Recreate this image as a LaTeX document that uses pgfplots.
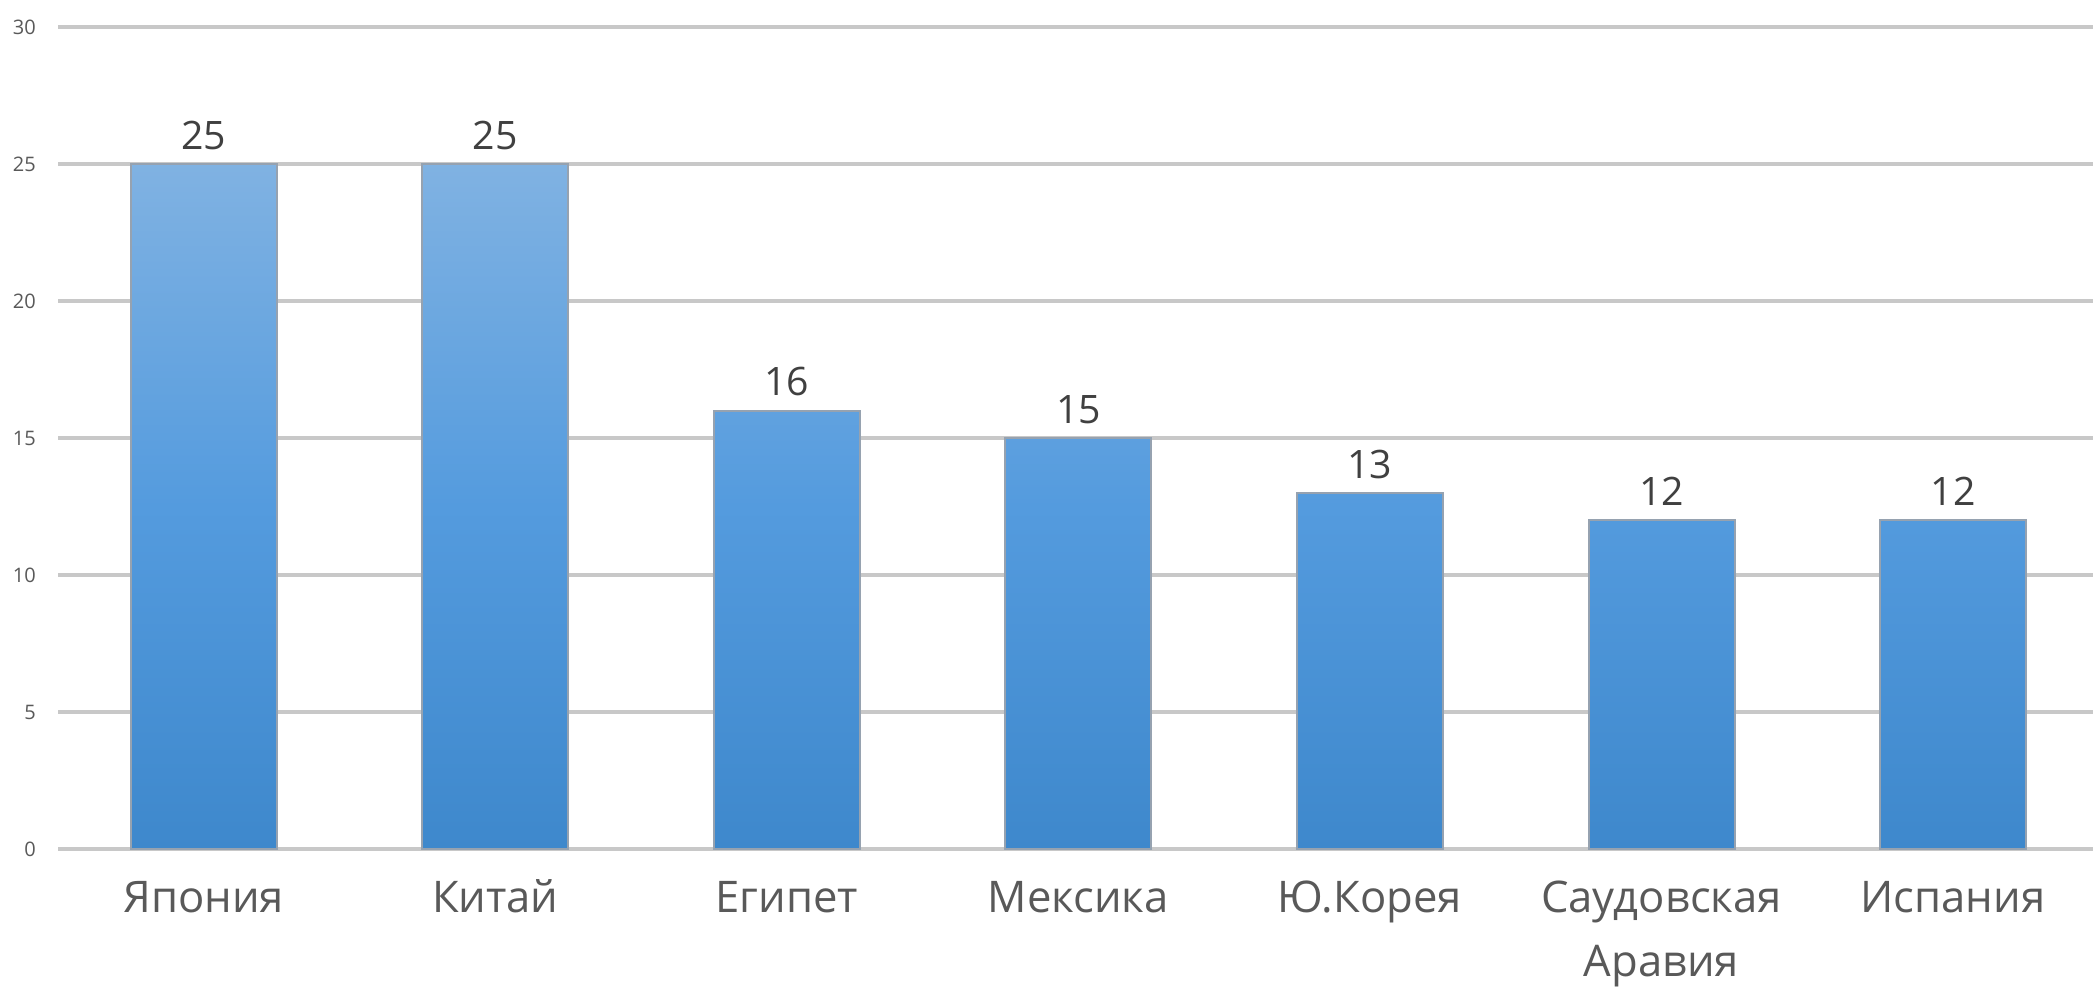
\documentclass[border=0pt]{standalone}
\usepackage{pgfplots}
\pgfplotsset{compat=1.18}
\usepackage{fontspec}
\setmainfont{Open Sans}
\definecolor{gridc}{RGB}{200,200,200}
\definecolor{barTop}{RGB}{128,178,226}
\definecolor{barMid}{RGB}{84,155,222}
\definecolor{barBot}{RGB}{62,136,204}
\definecolor{barEdge}{RGB}{150,162,176}
\definecolor{txt}{RGB}{89,89,89}
\definecolor{lbl}{RGB}{64,64,64}
\newcommand{\st}{\rule{0pt}{11.2pt}}
\begin{document}
\begin{tikzpicture}
\begin{axis}[
  at={(0,0)}, anchor=south west,
  scale only axis,
  width=508.75pt, height=205.5pt,
  xmin=-0.5, xmax=6.48,
  ymin=0, ymax=30,
  ytick={0,5,10,15,20,25,30},
  xtick={0,1,2,3,4,5,6},
  xticklabels={\st Япония,\st Китай,\st Египет,\st Мексика,\st Ю.Корея,\st Саудовская\\Аравия,\st Испания},
  xticklabel style={align=center, font=\fontsize{10.9}{16}\selectfont, text=txt, yshift=-1.2pt},
  yticklabel style={font=\fontsize{5}{6}\selectfont, text=txt, xshift=-2pt},
  /pgf/number format/assume math mode=true,
  major tick length=0pt,
  axis line style={draw=none},
  ymajorgrids,
  major grid style={gridc, line width=1.2pt},
  clip=false,
  ybar, bar width=36.5pt,
  nodes near coords,
  nodes near coords style={font=\fontsize{9.8}{11}\selectfont, text=lbl},
]
\addplot[ybar, draw=barEdge, line width=0.5pt, top color=barTop, bottom color=barBot, middle color=barMid]
  coordinates {(0,25) (1,25) (2,16) (3,15) (4,13) (5,12) (6,12)};
\end{axis}
\pgfresetboundingbox
\useasboundingbox (-14.5pt,-35.5pt) rectangle (508.75pt,212.25pt);
\end{tikzpicture}
\end{document}
